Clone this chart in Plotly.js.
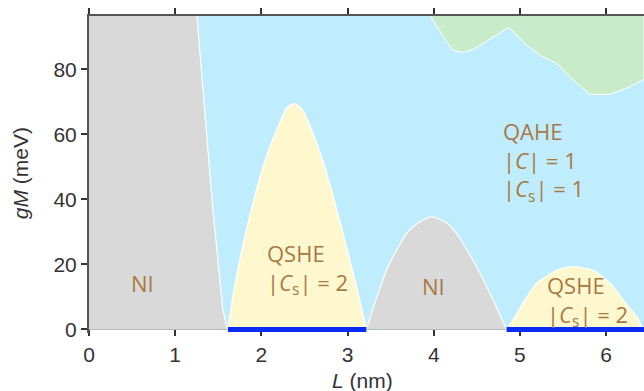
<!DOCTYPE html>
<html>
<head>
<meta charset="utf-8">
<script src="https://cdn.plot.ly/plotly-3.0.1.min.js"></script>
<style>html,body{margin:0;padding:0;background:#fff;}#chart{width:644px;height:391px;}</style>
</head>
<body>
<div id="chart"></div>
<script>
// ---- data ----
const xMax = 6.44;          // L (nm) at right edge
const yMax = 96.4;          // gM (meV) at top edge
const yMin = -1.1;

const bgX = [0, 6.44];
const bgY = [96.4, 96.4];

const niLeftX = [1.252, 1.341, 1.438, 1.554, 1.605];
const niLeftY = [96.4, 67.5, 36.7, 5.9, 0];

const qshe1X = [1.612, 1.682, 1.756, 1.845, 1.942, 2.058, 2.21, 2.29, 2.375, 2.465, 2.553, 2.697, 2.813, 2.917, 3.017, 3.115, 3.219];
const qshe1Y = [0, 12.1, 22.3, 32.6, 42.9, 53.1, 63.4, 68.0, 69.5, 68.0, 63.4, 53.1, 42.9, 32.6, 22.3, 12.1, 0];

const ni2X = [3.219, 3.327, 3.47, 3.684, 3.819, 3.974, 4.149, 4.265, 4.497, 4.69, 4.845];
const ni2Y = [0, 9.0, 19.3, 29.5, 32.8, 34.6, 32.8, 29.5, 19.3, 9.0, 0];

const qshe2X = [4.845, 4.942, 5.058, 5.194, 5.426, 5.6, 5.851, 6.045, 6.2, 6.355, 6.43];
const qshe2Y = [0, 3.9, 9.0, 14.2, 18.2, 19.3, 18.2, 14.2, 9.0, 3.9, 0];

const greenX = [3.963, 4.032, 4.149, 4.225, 4.341, 4.458, 4.651, 4.872, 5.078, 5.232, 5.426, 5.619, 5.813, 6.045, 6.239, 6.44, 6.44];
const greenY = [96.4, 93.6, 88.5, 85.9, 85.2, 86.1, 89.2, 92.9, 87.5, 84.4, 81.8, 76.7, 72.3, 72.3, 74.2, 76.9, 96.4];

const blueSeg1X = [qshe1X[0], qshe1X[qshe1X.length - 1]];
const blueSeg2X = [qshe2X[0], xMax];

const xTicks = [0, 1, 2, 3, 4, 5, 6];
const yTicks = [0, 20, 40, 60, 80];

const xTitle = '<i>L</i> (nm)';
const yTitle = '<i>gM</i> (meV)';

// labels
const labelTexts = ['NI', 'QSHE<br>|<i>C</i><sub>s</sub>| = 2', 'NI', 'QSHE<br>|<i>C</i><sub>s</sub>| = 2', 'QAHE<br>|<i>C</i>| = 1<br>|<i>C</i><sub>s</sub>| = 1'];
const labelX = [0.62, 2.04, 4.0, 5.29, 4.78];
const labelY = [14.2, 18.6, 13.4, 8.6, 51.6];
const labelAnchor = ['center', 'left', 'center', 'left', 'left'];

// ---- colours ----
const cBlue = '#c0edfd', cGray = '#d9d9d9', cYellow = '#fff8cf', cGreen = '#c8ebc9';
const cText = '#a87943', cLine = '#0a2cf5', cAxis = '#333333';

const traces = [
  {x: bgX, y: bgY, mode: 'lines', fill: 'tozeroy', fillcolor: cBlue, line: {width: 0}, hoverinfo: 'skip'},
  {x: greenX, y: greenY, mode: 'lines', fill: 'toself', fillcolor: cGreen, line: {color: '#ffffff', width: 1}, hoverinfo: 'skip'},
  {x: niLeftX, y: niLeftY, mode: 'lines', fill: 'tozerox', fillcolor: cGray, line: {color: '#ffffff', width: 1.2}, hoverinfo: 'skip'},
  {x: qshe1X, y: qshe1Y, mode: 'lines', fill: 'tozeroy', fillcolor: cYellow, line: {color: '#ffffff', width: 1.2, shape: 'spline', smoothing: 0.6}, hoverinfo: 'skip'},
  {x: ni2X, y: ni2Y, mode: 'lines', fill: 'tozeroy', fillcolor: cGray, line: {color: '#ffffff', width: 1.2, shape: 'spline', smoothing: 0.6}, hoverinfo: 'skip'},
  {x: qshe2X, y: qshe2Y, mode: 'lines', fill: 'tozeroy', fillcolor: cYellow, line: {color: '#ffffff', width: 1.2, shape: 'spline', smoothing: 0.6}, hoverinfo: 'skip'},
  {x: blueSeg1X, y: [0, 0], mode: 'lines', line: {color: cLine, width: 5}, hoverinfo: 'skip'},
  {x: blueSeg2X, y: [0, 0], mode: 'lines', line: {color: cLine, width: 5}, hoverinfo: 'skip'},
  // invisible carrier so the top (mirror) axis is drawn
  {x: bgX, y: bgY, xaxis: 'x2', mode: 'markers', marker: {opacity: 0, size: 1}, hoverinfo: 'skip'}
];

const tickFont = {family: 'Liberation Sans, Arial, sans-serif', size: 21, color: cAxis};

const annotations = labelTexts.map((t, i) => ({
  x: labelX[i], y: labelY[i], xref: 'x', yref: 'y', text: t, showarrow: false,
  xanchor: labelAnchor[i], yanchor: 'middle', align: 'left',
  font: {family: 'Open Sans, sans-serif', size: 22, color: cText}
}));
// axis titles, placed as in the reference (x title is cut by the bottom edge there)
annotations.push({
  x: 0.493, y: -0.108, xref: 'paper', yref: 'paper', text: xTitle, showarrow: false,
  xanchor: 'center', yanchor: 'top', font: tickFont
});
annotations.push({
  x: -0.122, y: 0.505, xref: 'paper', yref: 'paper', text: yTitle, showarrow: false,
  textangle: -90, xanchor: 'center', yanchor: 'middle', font: tickFont
});

const layout = {
  width: 644, height: 391,
  margin: {l: 89, r: 0, t: 16, b: 58},
  paper_bgcolor: '#ffffff', plot_bgcolor: '#ffffff',
  showlegend: false,
  xaxis: {
    range: [0, xMax], tickvals: xTicks, ticktext: xTicks.map(String),
    anchor: 'free', position: (-yMin) / (yMax - yMin),
    showline: true, linecolor: '#555555', linewidth: 2,
    ticks: 'outside', ticklen: 6, tickwidth: 2, tickcolor: cAxis,
    showgrid: false, zeroline: false, layer: 'below traces',
    tickfont: tickFont
  },
  xaxis2: {
    range: [0, xMax], overlaying: 'x', side: 'top', anchor: 'y', tickvals: xTicks,
    showticklabels: false, showline: true, linecolor: '#555555', linewidth: 2,
    ticks: 'outside', ticklen: 6, tickwidth: 2, tickcolor: cAxis,
    showgrid: false, zeroline: false
  },
  yaxis: {
    range: [yMin, yMax], tickvals: yTicks, ticktext: yTicks.map(String),
    showline: true, linecolor: '#555555', linewidth: 2,
    ticks: 'outside', ticklen: 6, tickwidth: 2, tickcolor: cAxis,
    showgrid: false, zeroline: false,
    tickfont: tickFont
  },
  annotations: annotations
};

Plotly.newPlot('chart', traces, layout, {staticPlot: true, displayModeBar: false});
</script>
</body>
</html>
